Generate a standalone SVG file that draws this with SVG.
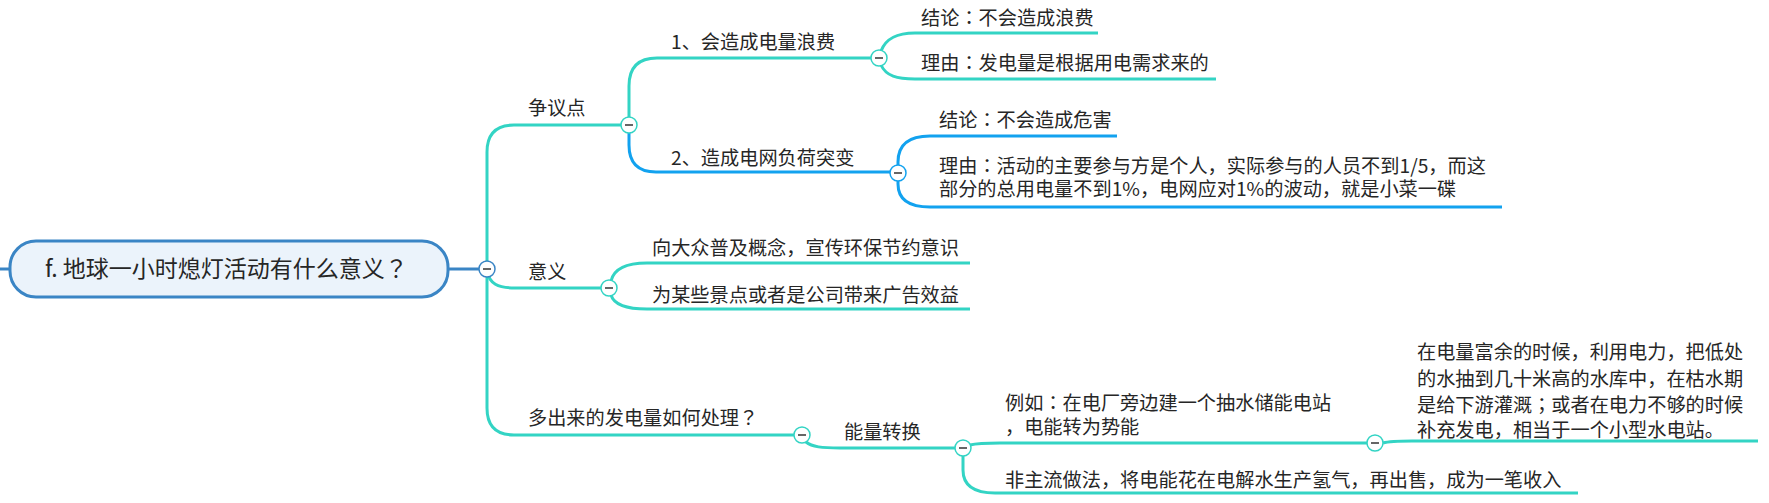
<svg xmlns="http://www.w3.org/2000/svg" width="1769" height="503" viewBox="0 0 1769 503">
<style>
text{font-family:"Noto Sans CJK SC","Noto Sans",sans-serif;font-size:19.2px;fill:#262626}
.root{font-size:23px}
.p{font-family:"Noto Sans CJK JP","Noto Sans CJK SC",sans-serif}
.t{fill:none;stroke:#33d4c4;stroke-width:3}
.b{fill:none;stroke:#12a2ef;stroke-width:3}
.r{fill:none;stroke:#3a85c5;stroke-width:3}
.ct{fill:#fff;stroke:#33d4c4;stroke-width:1.5}
.cb{fill:#fff;stroke:#12a2ef;stroke-width:1.5}
.cr{fill:#fff;stroke:#3a85c5;stroke-width:1.5}
.m{stroke:#333;stroke-width:1.5}
</style>
<defs>
<g id="minus"><line class="m" x1="-4" y1="0" x2="4" y2="0"/></g>
</defs>
<g id="connectors">
<path class="r" d="M0,269 H10"/>
<path class="r" d="M448,269 H480"/>
<path class="t" d="M487,262 V152 Q487,125 514,125 H621"/>
<path class="t" d="M487,270 C489,284 498,288 515,288 H601"/>
<path class="t" d="M487,277 V408 Q487,435 514,435 H794"/>
<path class="t" d="M611,281 C614,268 627,263 647,263 H970"/>
<path class="t" d="M611,295 C614,305 626,309 647,309 H970"/>
<path class="t" d="M629,117 V86 Q629,58 657,58 H871"/>
<path class="b" d="M629,133 V145 Q629,172 656,172 H890"/>
<path class="t" d="M881,51 C886,38 897,33 915,33 H1098"/>
<path class="t" d="M881,65 C886,76 897,79 915,79 H1216"/>
<path class="b" d="M898,165 V162 Q898,136 930,136 H1117"/>
<path class="b" d="M898,181 V184 Q898,207 930,207 H1502"/>
<path class="t" d="M806,442 C812,447 822,448 840,448 H955"/>
<path class="t" d="M970,445 C978,443 988,443 1000,443 H1367"/>
<path class="t" d="M963,456 V470 Q963,493 995,493 H1578"/>
<path class="t" d="M1383,443 C1390,441 1400,441 1412,441 H1758"/>
</g>
<g id="root">
<rect x="10" y="241" width="438" height="56" rx="26" fill="#ebf3fb" stroke="#3a85c5" stroke-width="3"/>
<text class="root" x="45" y="277">f. 地球一小时熄灯活动有什么意义<tspan class="p">？</tspan></text>
<circle class="cr" cx="487" cy="269" r="8"/><use href="#minus" x="487" y="269"/>
</g>
<g id="n-zhengyi">
<text x="528" y="115">争议点</text>
<circle class="ct" cx="629" cy="125" r="8"/><use href="#minus" x="629" y="125"/>
</g>
<g id="n-yiyi">
<text x="528" y="279">意义</text>
<circle class="ct" cx="609" cy="288" r="8"/><use href="#minus" x="609" y="288"/>
</g>
<g id="n-duochu">
<text x="528" y="425">多出来的发电量如何处理<tspan class="p">？</tspan></text>
<circle class="ct" cx="802" cy="435" r="8"/><use href="#minus" x="802" y="435"/>
</g>
<g id="n-1">
<text x="671" y="49">1、会造成电量浪费</text>
<circle class="ct" cx="879" cy="58" r="8"/><use href="#minus" x="879" y="58"/>
</g>
<g id="n-2">
<text x="671" y="165">2、造成电网负荷突变</text>
<circle class="cb" cx="898" cy="173" r="8"/><use href="#minus" x="898" y="173"/>
</g>
<g id="n-1a"><text x="921" y="25">结论<tspan class="p">：</tspan>不会造成浪费</text></g>
<g id="n-1b"><text x="921" y="70">理由<tspan class="p">：</tspan>发电量是根据用电需求来的</text></g>
<g id="n-2a"><text x="939" y="127">结论<tspan class="p">：</tspan>不会造成危害</text></g>
<g id="n-2b">
<text x="939" y="173">理由<tspan class="p">：</tspan>活动的主要参与方是个人，实际参与的人员不到1/5，而这</text>
<text x="939" y="196">部分的总用电量不到1%，电网应对1%的波动，就是小菜一碟</text>
</g>
<g id="n-yiyi1"><text x="652" y="255">向大众普及概念，宣传环保节约意识</text></g>
<g id="n-yiyi2"><text x="652" y="302">为某些景点或者是公司带来广告效益</text></g>
<g id="n-nengliang">
<text x="844" y="439">能量转换</text>
<circle class="ct" cx="963" cy="448" r="8"/><use href="#minus" x="963" y="448"/>
</g>
<g id="n-liru">
<text x="1005" y="410">例如<tspan class="p">：</tspan>在电厂旁边建一个抽水储能电站</text>
<text x="1005" y="434">，电能转为势能</text>
<circle class="ct" cx="1375" cy="443" r="8"/><use href="#minus" x="1375" y="443"/>
</g>
<g id="n-choushui">
<text x="1417" y="359">在电量富余的时候，利用电力，把低处</text>
<text x="1417" y="386">的水抽到几十米高的水库中，在枯水期</text>
<text x="1417" y="412">是给下游灌溉<tspan class="p">；</tspan>或者在电力不够的时候</text>
<text x="1417" y="437">补充发电，相当于一个小型水电站。</text>
</g>
<g id="n-feizhuliu"><text x="1005" y="487">非主流做法，将电能花在电解水生产氢气，再出售，成为一笔收入</text></g>
</svg>
